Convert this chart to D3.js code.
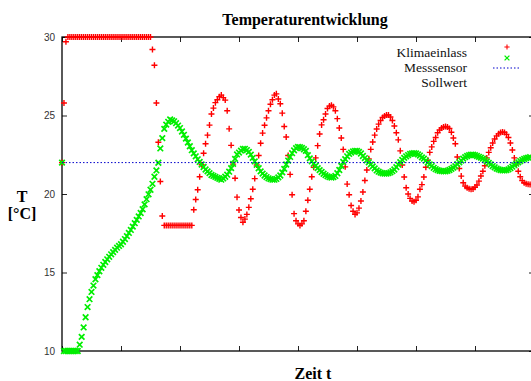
<!DOCTYPE html>
<html>
<head>
<meta charset="utf-8">
<script src="https://cdn.jsdelivr.net/npm/d3@7/dist/d3.min.js"></script>
<style>
  body { margin: 0; background: #fff; }
  svg { display: block; }
</style>
</head>
<body>
<div id="chart"></div>
<script>
// Messwerte, ein Wert je Abtastschritt
const klimaeinlass = [
  22.0, 25.8, 29.7, 30, 30, 30, 30, 30, 30, 30,
  30, 30, 30, 30, 30, 30, 30, 30, 30, 30,
  30, 30, 30, 30, 30, 30, 30, 30, 30, 30,
  30, 30, 30, 30, 30, 30, 30, 30, 30, 30,
  30, 30, 30, 30, 30, 30, 29.2, 28.2, 25.8, 23.3,
  20.8, 18.6, 18, 18, 18, 18, 18, 18, 18, 18,
  18, 18, 18, 18, 18, 18, 18, 19.0, 19.65, 20.27,
  21.1, 21.86, 22.6, 23.2, 23.75, 24.39, 25.1, 25.47, 25.82, 26.0,
  26.2, 26.3, 26.14, 25.98, 25.3, 24.15, 23.1, 21.9, 21.0, 19.8,
  18.98, 18.5, 18.2, 18.4, 18.7, 19.15, 19.7, 20.3, 20.98, 21.85,
  22.45, 23.23, 23.88, 24.38, 24.85, 25.3, 25.72, 26.0, 26.3, 26.38,
  26.05, 25.75, 25.15, 24.3, 23.63, 22.45, 21.25, 19.95, 18.75, 18.3,
  18.1, 18.0, 18.1, 18.3, 18.9, 19.6, 20.3, 21.1, 21.7, 22.3,
  23.08, 23.82, 24.4, 24.73, 25.1, 25.45, 25.6, 25.65, 25.55, 25.3,
  24.8, 24.2, 23.57, 22.84, 21.73, 20.63, 19.95, 19.27, 18.9, 18.7,
  18.8, 19.1, 19.55, 20.13, 20.86, 21.53, 22.24, 22.84, 23.31, 23.75,
  24.14, 24.45, 24.68, 24.87, 24.97, 25.03, 25.03, 24.9, 24.68, 24.33,
  23.9, 23.45, 22.75, 21.85, 21.08, 20.4, 20.0, 19.72, 19.55, 19.5,
  19.6, 19.82, 20.3, 20.6, 21.08, 21.7, 22.15, 22.65, 23.0, 23.35,
  23.6, 23.9, 24.08, 24.2, 24.27, 24.3, 24.27, 24.17, 23.93, 23.57,
  23.2, 22.36, 21.62, 21.14, 20.72, 20.5, 20.4, 20.33, 20.3, 20.32,
  20.43, 20.57, 20.82, 21.15, 21.45, 21.8, 22.3, 22.65, 22.95, 23.25,
  23.5, 23.7, 23.83, 23.92, 23.95, 23.92, 23.8, 23.6, 23.25, 22.8,
  22.3, 21.9, 21.45, 21.1, 20.85, 20.72, 20.65, 20.62, 20.6
];

const messsensor = [
  22.0, 10, 10, 10, 10, 10, 10, 10, 10, 10.4,
  10.9, 11.5, 12.15, 12.8, 13.3, 13.76, 14.17, 14.57, 14.83, 15.08,
  15.3, 15.49, 15.67, 15.84, 16.0, 16.16, 16.3, 16.44, 16.58, 16.69,
  16.8, 16.96, 17.13, 17.32, 17.52, 17.71, 17.92, 18.14, 18.35, 18.57,
  18.79, 19.03, 19.34, 19.67, 19.98, 20.27, 20.65, 21.1, 21.5, 21.99,
  22.9, 23.56, 24.15, 24.42, 24.6, 24.75, 24.69, 24.63, 24.51, 24.36,
  24.2, 23.98, 23.77, 23.53, 23.28, 23.04, 22.79, 22.59, 22.4, 22.21,
  22.04, 21.88, 21.72, 21.56, 21.44, 21.33, 21.21, 21.15, 21.09, 21.03,
  20.97, 20.91, 20.99, 21.1, 21.23, 21.42, 21.65, 21.92, 22.24, 22.52,
  22.64, 22.76, 22.87, 22.88, 22.8, 22.68, 22.51, 22.3, 22.08, 21.86,
  21.64, 21.44, 21.3, 21.18, 21.08, 21.0, 20.95, 20.91, 20.91, 20.96,
  21.06, 21.18, 21.38, 21.6, 21.88, 22.13, 22.36, 22.6, 22.78, 22.92,
  23.0, 22.98, 22.93, 22.85, 22.75, 22.47, 22.27, 22.08, 21.93, 21.8,
  21.65, 21.52, 21.4, 21.29, 21.2, 21.12, 21.07, 21.05, 21.08, 21.15,
  21.32, 21.53, 21.79, 22.04, 22.22, 22.4, 22.55, 22.64, 22.71, 22.75,
  22.74, 22.68, 22.58, 22.42, 22.29, 22.15, 22.02, 21.89, 21.76, 21.63,
  21.5, 21.42, 21.36, 21.32, 21.3, 21.3, 21.33, 21.38, 21.46, 21.56,
  21.71, 21.87, 22.03, 22.17, 22.3, 22.4, 22.48, 22.55, 22.59, 22.6,
  22.58, 22.52, 22.45, 22.33, 22.25, 22.12, 22.0, 21.89, 21.78, 21.67,
  21.58, 21.52, 21.48, 21.46, 21.45, 21.45, 21.48, 21.53, 21.6, 21.68,
  21.77, 21.9, 22.02, 22.13, 22.25, 22.35, 22.42, 22.47, 22.5, 22.5,
  22.47, 22.42, 22.37, 22.32, 22.25, 22.17, 22.08, 21.98, 21.88, 21.78,
  21.7, 21.62, 21.57, 21.53, 21.5, 21.5, 21.52, 21.57, 21.65, 21.74,
  21.84, 21.93, 22.02, 22.1, 22.17, 22.23, 22.28, 22.32, 22.35
];

const sollwert = 22;
const yTicks = [10, 15, 20, 25, 30];
const xTicks = [0, 30, 60, 90, 120, 150, 180, 210, 240];
const labels = ['Klimaeinlass', 'Messsensor', 'Sollwert'];
const colors = ['#ff0000', '#00ee00', '#0000cc'];

const W = 531;
const H = 381;
const margin = { top: 37, right: -3, bottom: 30, left: 62 };
const width = W - margin.left - margin.right;
const height = H - margin.top - margin.bottom;

const svg = d3.select('#chart').append('svg').attr('width', W).attr('height', H);
const g = svg.append('g').attr('transform', `translate(${margin.left},${margin.top})`);

const x = d3.scaleLinear().domain([0, 240]).range([0, width]);
const y = d3.scaleLinear().domain([10, 30]).range([height, 0]);

// Achsen mit nach innen zeigenden Strichen
const tickColor = '#222';
const styleAxis = (sel) => {
  sel.select('.domain').remove();
  sel.selectAll('.tick line').attr('stroke', tickColor).attr('stroke-width', 1);
  sel.selectAll('.tick text')
    .attr('fill', '#333')
    .attr('font-family', '"Liberation Sans", Arial, sans-serif')
    .attr('font-size', 10);
};

g.append('g').call(d3.axisLeft(y).tickValues(yTicks).tickSizeInner(-5).tickSizeOuter(0).tickPadding(7)).call(styleAxis);
g.append('g').attr('transform', `translate(${width},0)`)
  .call(d3.axisRight(y).tickValues(yTicks).tickSizeInner(-5).tickSizeOuter(0).tickFormat('')).call(styleAxis);
g.append('g').attr('transform', `translate(0,${height})`)
  .call(d3.axisBottom(x).tickValues(xTicks).tickSizeInner(-5).tickSizeOuter(0).tickFormat('')).call(styleAxis);
g.append('g')
  .call(d3.axisTop(x).tickValues(xTicks).tickSizeInner(-5).tickSizeOuter(0).tickFormat('')).call(styleAxis);

// Rahmen
g.append('rect')
  .attr('x', 0).attr('y', 0)
  .attr('width', width).attr('height', height)
  .attr('fill', 'none').attr('stroke', '#000').attr('stroke-width', 1.3);

const plusPath = 'M-3,0H3M0,-3V3';
const crossPath = 'M-2.8,-2.8L2.8,2.8M-2.8,2.8L2.8,-2.8';

// Klimaeinlass (+)
g.append('g').selectAll('path').data(klimaeinlass).enter().append('path')
  .attr('transform', (d, i) => `translate(${x(i)},${y(d)})`)
  .attr('d', plusPath)
  .attr('stroke', colors[0]).attr('stroke-width', 1.4).attr('fill', 'none');

// Messsensor (x)
g.append('g').selectAll('path').data(messsensor).enter().append('path')
  .attr('transform', (d, i) => `translate(${x(i)},${y(d)})`)
  .attr('d', crossPath)
  .attr('stroke', colors[1]).attr('stroke-width', 1.7).attr('fill', 'none');

// Sollwert
g.append('line')
  .attr('x1', x(0)).attr('x2', width)
  .attr('y1', y(sollwert)).attr('y2', y(sollwert))
  .attr('stroke', colors[2]).attr('stroke-width', 1)
  .attr('stroke-dasharray', '1.5,2');

// Legende
const legend = svg.append('g');
const legendTextY = [56.5, 71.5, 86.5];
const legendMarkY = [47, 58, 68];
labels.forEach((label, i) => {
  legend.append('text')
    .attr('x', 467).attr('y', legendTextY[i])
    .attr('text-anchor', 'end')
    .attr('font-family', '"Liberation Serif", "Times New Roman", serif')
    .attr('font-size', 13.5)
    .attr('fill', '#111')
    .text(label);
});
legend.append('path').attr('transform', `translate(507,${legendMarkY[0]})`)
  .attr('d', 'M-2.6,0H2.6M0,-2.6V2.6').attr('stroke', colors[0]).attr('stroke-width', 1.1);
legend.append('path').attr('transform', `translate(507,${legendMarkY[1]})`)
  .attr('d', 'M-2.4,-2.4L2.4,2.4M-2.4,2.4L2.4,-2.4').attr('stroke', colors[1]).attr('stroke-width', 1.3);
legend.append('line')
  .attr('x1', 493).attr('x2', 521)
  .attr('y1', legendMarkY[2]).attr('y2', legendMarkY[2])
  .attr('stroke', colors[2]).attr('stroke-width', 1).attr('stroke-dasharray', '1.5,2');

// Titel und Achsenbeschriftung
const serifBold = (sel) => sel
  .attr('font-family', '"Liberation Serif", "Times New Roman", serif')
  .attr('font-weight', 'bold')
  .attr('font-size', 16)
  .attr('fill', '#000')
  .attr('text-anchor', 'middle');

svg.append('text').attr('x', 305).attr('y', 25).call(serifBold).text('Temperaturentwicklung');
svg.append('text').attr('x', 313).attr('y', 379).call(serifBold).text('Zeit t');
svg.append('text').attr('x', 22).attr('y', 202).call(serifBold).text('T');
svg.append('text').attr('x', 22).attr('y', 219).call(serifBold).text('[°C]');
</script>
</body>
</html>
